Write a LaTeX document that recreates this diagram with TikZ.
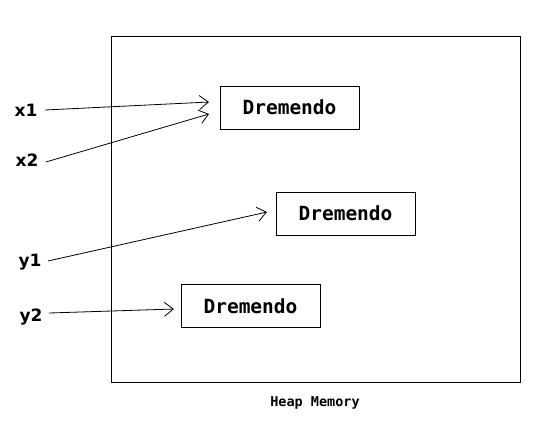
\documentclass[tikz,border=0pt]{standalone}
\usepackage{fontspec}
\setmainfont{DejaVu Sans}
\newfontfamily\monob{DejaVu Sans Mono}
\usetikzlibrary{arrows.meta}
\begin{document}
\begin{tikzpicture}[x=1pt,y=-1pt,line width=1pt,
  objbox/.style={draw,minimum width=139pt,minimum height=43pt,inner sep=0pt,font=\monob\bfseries\fontsize{19.5}{19.5}\selectfont},
  varlbl/.style={inner sep=0pt,font=\bfseries\fontsize{17}{17}\selectfont},
  ref/.style={-{Straight Barb[length=9pt,width=14pt,line width=0.8pt]},line width=0.8pt}]
\useasboundingbox (0,0) rectangle (540,440);
\node[draw,minimum width=409pt,minimum height=346pt,inner sep=0pt] (heap) at (315.5,209) {};
\node[inner sep=0pt,font=\monob\bfseries\fontsize{13.5}{13.5}\selectfont] (heaplbl) at (315,403) {Heap Memory};
\node[objbox] (b1) at (289.5,107.5) {Dremendo};
\node[objbox] (b2) at (345.5,213.5) {Dremendo};
\node[objbox] (b3) at (250.5,306) {Dremendo};
\node[varlbl] (x1) at (26,110) {x1};
\node[varlbl] (x2) at (27,160) {x2};
\node[varlbl] (y1) at (30,262) {y1};
\node[varlbl] (y2) at (31,317) {y2};
\coordinate (t1) at (209,102);
\coordinate (t2) at (209,114);
\coordinate (t3) at (267,212);
\coordinate (t4) at (174,309);
\draw[ref] (x1.east) ++(7,0) -- (t1);
\draw[ref] (x2.east) ++(7,2) -- (t2);
\draw[ref] (y1.east) ++(6,-1) -- (t3);
\draw[ref] (y2.east) ++(6,-4) -- (t4);
\end{tikzpicture}
\end{document}
